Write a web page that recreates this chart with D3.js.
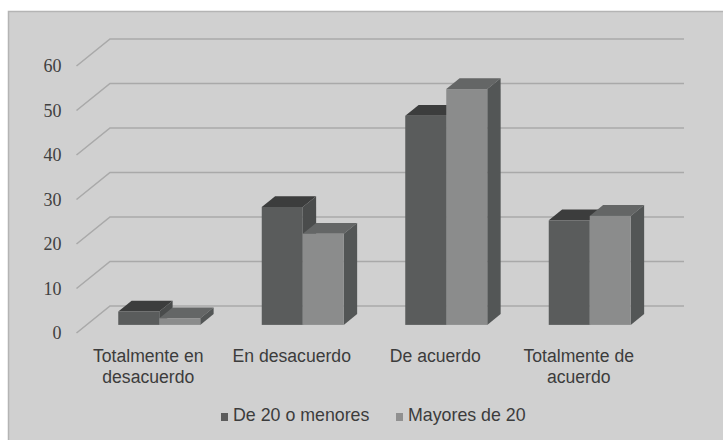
<!DOCTYPE html>
<html><head><meta charset="utf-8">
<script src="https://cdn.jsdelivr.net/npm/d3@7"></script>
<style>html,body{margin:0;padding:0;background:#fff;}svg{display:block;}</style>
</head><body>
<svg id="c" width="723" height="440"></svg>
<script>
const categories = ["Totalmente en desacuerdo", "En desacuerdo", "De acuerdo", "Totalmente de acuerdo"];
const categoryLines = [["Totalmente en","desacuerdo"],["En desacuerdo"],["De acuerdo"],["Totalmente de","acuerdo"]];
const seriesNames = ["De 20 o menores", "Mayores de 20"];
const serie1 = [3, 26.5, 47, 23.5];
const serie2 = [1.5, 20.5, 53, 24.5];
const yTicks = [0, 10, 20, 30, 40, 50, 60];

const svg = d3.select("#c");
// panel
svg.append("rect").attr("x",8.5).attr("y",11.5).attr("width",716).attr("height",430)
  .attr("fill","#d0d0d0").attr("stroke","#b4b4b4").attr("stroke-width",1.5);

const depthX = 33.5, depthY = -27; // oblique depth vector (front -> back wall)
const yFront = d3.scaleLinear().domain([0,60]).range([333, 66]);
const x = d3.scaleBand().domain(categories).range([76.5, 650.5]);

// gridlines: diagonal + back wall
const g = svg.append("g");
yTicks.forEach(v => {
  const y0 = yFront(v);
  g.append("path")
    .attr("d", `M${x.range()[0]},${y0}L${x.range()[0]+depthX},${y0+depthY}L${x.range()[1]+depthX},${y0+depthY}`)
    .attr("fill","none").attr("stroke","#a9a9a9").attr("stroke-width",1.6);
});

// y axis labels
const ax = svg.append("g").attr("transform","translate(61.5,0)")
  .call(d3.axisLeft(yFront).tickValues(yTicks).tickSize(0).tickPadding(0).tickFormat(d3.format("d")));
ax.select(".domain").remove();
ax.selectAll("text").attr("font-family","'Liberation Serif', serif").attr("font-size",18)
  .attr("fill","#404040").attr("dy","0.33em");

// bars
const barW = 41;
const f0 = 0.3, f1 = 0.7; // bar depth fractions
const colors = [
  {front:"#5a5c5c", top:"#3c3d3d", side:"#4a4c4c"},
  {front:"#8b8c8c", top:"#646666", side:"#535656"}
];
const series = [serie1, serie2];
const bars = svg.append("g");
categories.forEach((c, i) => {
  const gx = x(c) + x.bandwidth()/2 - barW + 11 - f0*depthX;
  series.forEach((s, k) => {
    const v = s[i];
    const x0 = gx + k*barW + f0*depthX;
    const yb = yFront(0) + f0*depthY;
    const yt = yFront(v) + f0*depthY;
    const dx = (f1-f0)*depthX, dy = (f1-f0)*depthY;
    const col = colors[k];
    bars.append("path").attr("d",`M${x0},${yt}L${x0+dx},${yt+dy}L${x0+barW+dx},${yt+dy}L${x0+barW},${yt}Z`).attr("fill",col.top);
    bars.append("path").attr("d",`M${x0+barW},${yt}L${x0+barW+dx},${yt+dy}L${x0+barW+dx},${yb+dy}L${x0+barW},${yb}Z`).attr("fill",col.side);
    bars.append("rect").attr("x",x0).attr("y",yt).attr("width",barW).attr("height",yb-yt).attr("fill",col.front);
  });
});

// category labels
const cl = svg.append("g");
categories.forEach((c, i) => {
  const cx = x(c)+x.bandwidth()/2;
  const t = cl.append("text").attr("x", cx).attr("y", 361.5)
    .attr("text-anchor","middle").attr("font-family","'Liberation Sans', Arial, sans-serif")
    .attr("font-size",17.6).attr("fill","#3c3c3c");
  categoryLines[i].forEach((ln, j) => {
    t.append("tspan").attr("x", cx).attr("dy", j===0?0:21).text(ln);
  });
});

// legend
const leg = svg.append("g");
const legX = [221, 396];
seriesNames.forEach((n, k) => {
  leg.append("rect").attr("x",legX[k]).attr("y",413).attr("width",7).attr("height",8).attr("fill",k===0?"#5c5c5c":"#909090");
  leg.append("text").attr("x",legX[k]+12).attr("y",420.5).attr("font-family","'Liberation Sans', Arial, sans-serif")
    .attr("font-size",17.8).attr("fill","#3c3c3c").text(n);
});
</script>
</body></html>
